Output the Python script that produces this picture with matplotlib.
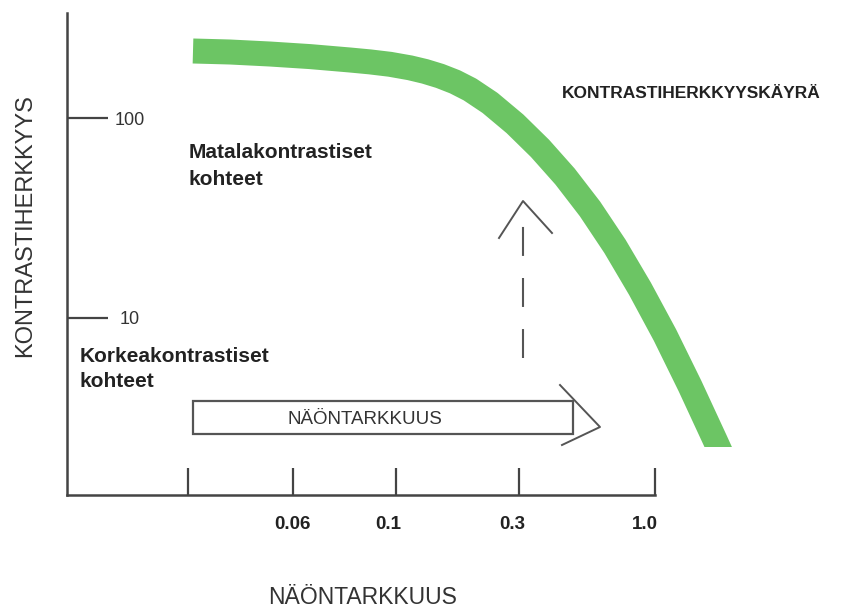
import matplotlib.pyplot as plt
from matplotlib.patches import Rectangle
from matplotlib.ticker import NullLocator

# ======================
# data (schematic contrast sensitivity curve)
# ======================
# x: position along the schematic acuity axis, y: contrast sensitivity (log)
curve_x = [193, 230, 270, 310, 350, 370, 390, 410, 425, 440, 455, 470,
           490, 515, 540, 565, 590, 615, 640, 665, 690, 715, 730]
curve_y = [216.3, 213.8, 208.9, 202.8, 195.0, 190.8, 185.6, 178.2, 171.0,
           162.2, 151.6, 138.8, 119.0, 93.5, 70.5, 51.0, 35.1, 22.8, 14.0,
           8.21, 4.57, 2.455, 1.679]
curve_end = 2.26          # band is cut flat here

acuity_ticks = [188, 293, 396, 519, 655]
acuity_label_pos = [292, 388, 512, 645]
acuity_labels = ["0.06", "0.1", "0.3", "1.0"]

sens_ticks = [10, 100]
sens_labels = ["10", "100"]

# ======================
# style
# ======================
GREEN = "#6cc564"
AXIS = "#444444"
LINE = "#555555"
TXT = "#333333"

plt.rcParams["font.family"] = ["Liberation Sans", "DejaVu Sans"]

W, H = 841, 610
fig = plt.figure(figsize=(W / 100, H / 100), dpi=100)

# main axes (pixel layout of the reference)
ax = fig.add_axes([67 / W, (H - 495) / H, (W - 67) / W, (495 - 13) / H])
ax.set_yscale("log")
ax.set_xlim(67, W)
ax.set_ylim(1.303, 335)

line, = ax.plot(curve_x, curve_y, color=GREEN, lw=18, solid_capstyle="butt",
                solid_joinstyle="round", zorder=3)
line.set_clip_path(Rectangle((67, curve_end), W, 1000, transform=ax.transData))

for s in ["top", "right"]:
    ax.spines[s].set_visible(False)
for s in ["left", "bottom"]:
    ax.spines[s].set_color(AXIS)
    ax.spines[s].set_linewidth(1.8)
ax.spines["bottom"].set_bounds(67, acuity_ticks[-1])

# x ticks
ax.set_xticks(acuity_ticks, labels=[""] * len(acuity_ticks))
ax.set_xticks(acuity_label_pos, labels=acuity_labels, minor=True)
ax.tick_params(axis="x", which="major", direction="in", length=19.5,
               width=1.6, color=AXIS)
ax.tick_params(axis="x", which="minor", length=0, pad=15, labelsize=13.5,
               labelcolor="#222222")
plt.setp(ax.get_xticklabels(minor=True), fontweight="bold")

# y ticks
ax.yaxis.set_minor_locator(NullLocator())
ax.set_yticks(sens_ticks, labels=sens_labels)
ax.tick_params(axis="y", which="major", direction="in", length=29.5,
               width=1.6, color=AXIS, pad=-45, labelsize=13, labelcolor=TXT)
plt.setp(ax.get_yticklabels(), ha="center")

# ======================
# overlay for annotations (pixel coords)
# ======================
ov = fig.add_axes([0, 0, 1, 1], zorder=5)
ov.set_xlim(0, W)
ov.set_ylim(H, 0)
ov.axis("off")
ov.patch.set_visible(False)

ov.text(25, 226, "KONTRASTIHERKKYYS", rotation=90, ha="center", va="center",
        fontsize=17, color=TXT)
ov.text(363, 598, "NÄÖNTARKKUUS", ha="center", va="center",
        fontsize=16.5, color=TXT)

ov.text(189, 158, "Matalakontrastiset", ha="left", va="baseline",
        fontsize=15, fontweight="bold", color="#222222")
ov.text(189, 185, "kohteet", ha="left", va="baseline",
        fontsize=15, fontweight="bold", color="#222222")
ov.text(80, 362, "Korkeakontrastiset", ha="left", va="baseline",
        fontsize=15, fontweight="bold", color="#222222")
ov.text(80, 387, "kohteet", ha="left", va="baseline",
        fontsize=15, fontweight="bold", color="#222222")
ov.text(562, 98, "KONTRASTIHERKKYYSKÄYRÄ", ha="left", va="baseline",
        fontsize=12.5, fontweight="bold", color="#222222")

# big outlined arrow
ov.add_patch(Rectangle((193, 401), 380, 33, facecolor="white",
                       edgecolor=LINE, lw=1.6))
ov.plot([560, 600, 562], [385, 427, 445], color=LINE, lw=1.4)
ov.text(365, 420, "NÄÖNTARKKUUS", ha="center", va="center",
        fontsize=13.5, color=TXT)

# dashed vertical arrow
ov.plot([523, 523], [358, 223], color=LINE, lw=1.5,
        linestyle=(0, (13.9, 10.6)))
ov.plot([499, 523, 552], [238, 201, 233], color=LINE, lw=1.4)

fig.savefig("out.png", dpi=100)
